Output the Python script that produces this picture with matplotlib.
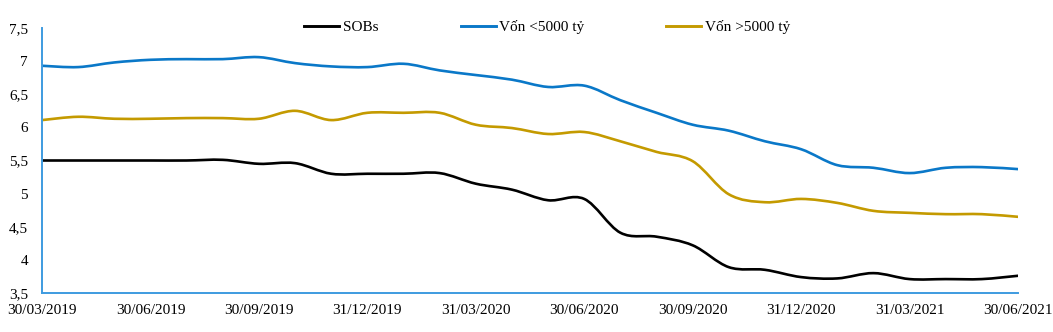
import matplotlib.pyplot as plt
import numpy as np
from matplotlib.path import Path
from matplotlib.patches import PathPatch
from matplotlib.lines import Line2D
import matplotlib.ticker as ticker

# Monthly data, 30/03/2019 -> 30/06/2021 (28 points)
tick_labels = ['30/03/2019', '30/06/2019', '30/09/2019', '31/12/2019', '31/03/2020',
               '30/06/2020', '30/09/2020', '31/12/2020', '31/03/2021', '30/06/2021']
sobs = [5.50, 5.50, 5.50, 5.50, 5.50, 5.51, 5.45, 5.46, 5.30, 5.30, 5.30, 5.31, 5.15, 5.06,
        4.90, 4.92, 4.41, 4.35, 4.22, 3.89, 3.85, 3.74, 3.72, 3.80, 3.71, 3.71, 3.71, 3.76]
small_cap = [6.93, 6.91, 6.98, 7.02, 7.03, 7.03, 7.06, 6.97, 6.92, 6.91, 6.96, 6.86, 6.79, 6.72,
             6.61, 6.63, 6.41, 6.22, 6.04, 5.95, 5.79, 5.67, 5.43, 5.39, 5.31, 5.39, 5.40, 5.37]
large_cap = [6.11, 6.16, 6.13, 6.13, 6.14, 6.14, 6.13, 6.25, 6.11, 6.22, 6.22, 6.22, 6.04, 5.99,
             5.90, 5.93, 5.79, 5.63, 5.49, 4.99, 4.87, 4.92, 4.86, 4.74, 4.71, 4.69, 4.69, 4.65]
names = ['SOBs', 'Vốn <5000 tỷ', 'Vốn >5000 tỷ']
colors = ['#000000', '#0A78C8', '#C49A00']

plt.rcParams['font.family'] = ['Liberation Serif', 'DejaVu Serif']

fig = plt.figure(figsize=(10.53, 3.32), dpi=100)
ax = fig.add_axes([42 / 1053, 39 / 332, 976 / 1053, 265 / 332])


def smooth_path(x, y):
    # Excel-style smoothed line: cubic Bezier segments through every point
    x = np.asarray(x, float)
    y = np.asarray(y, float)
    n = len(x)
    verts = [(x[0], y[0])]
    codes = [Path.MOVETO]
    for i in range(n - 1):
        i0 = max(i - 1, 0)
        i3 = min(i + 2, n - 1)
        c1 = (x[i] + (x[i + 1] - x[i0]) / 6, y[i] + (y[i + 1] - y[i0]) / 6)
        c2 = (x[i + 1] - (x[i3] - x[i]) / 6, y[i + 1] - (y[i3] - y[i]) / 6)
        verts += [c1, c2, (x[i + 1], y[i + 1])]
        codes += [Path.CURVE4] * 3
    return Path(verts, codes)


xs = np.arange(len(sobs))
handles = []
for series, name, c in zip([sobs, small_cap, large_cap], names, colors):
    ax.add_patch(PathPatch(smooth_path(xs, series), facecolor='none', edgecolor=c,
                           linewidth=1.9, capstyle='round', joinstyle='round'))
    handles.append(Line2D([], [], color=c, linewidth=2.1, label=name))

ax.set_xlim(0, len(sobs) - 1)
ax.set_ylim(3.5, 7.5)
ax.set_xticks(xs[::3])
ax.set_xticklabels(tick_labels)
ax.yaxis.set_major_locator(ticker.MultipleLocator(0.5))
ax.yaxis.set_major_formatter(ticker.FuncFormatter(lambda v, p: f'{v:g}'.replace('.', ',')))
ax.tick_params(axis='both', length=0, labelsize=11, colors='black')
ax.tick_params(axis='x', pad=8)
ax.tick_params(axis='y', pad=10)

for s in ['top', 'right']:
    ax.spines[s].set_visible(False)
for s in ['left', 'bottom']:
    ax.spines[s].set_color('#3E9BE0')
    ax.spines[s].set_linewidth(1.4)

fig.legend(handles=handles, loc='center', bbox_to_anchor=(547 / 1053, 1 - 27 / 332),
           ncol=3, frameon=False, fontsize=11, handlelength=2.3, handletextpad=0.2,
           columnspacing=5.4)

plt.savefig('out.png', dpi=100)
